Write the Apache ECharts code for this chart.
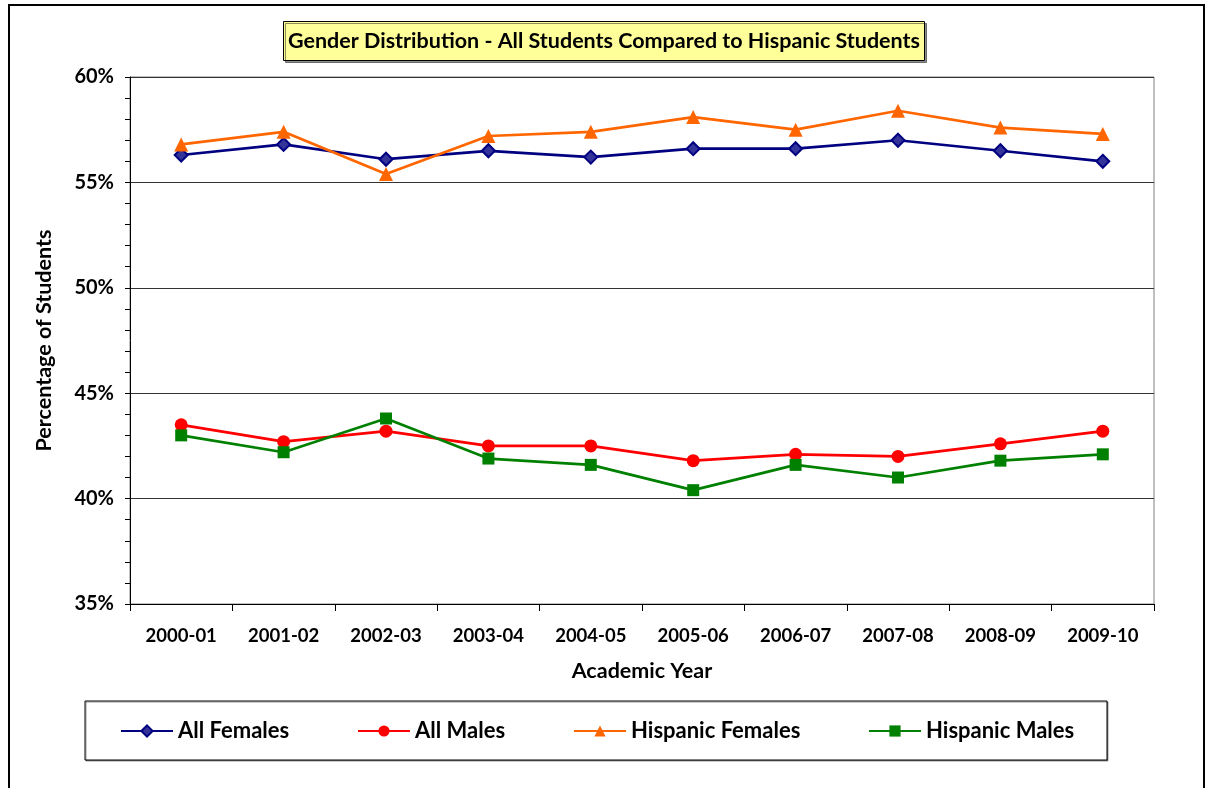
<!DOCTYPE html>
<html>
<head>
<meta charset="utf-8">
<script src="https://cdn.jsdelivr.net/npm/echarts@6/dist/echarts.min.js"></script>
<style>
  html, body { margin: 0; padding: 0; background: #fff; }
  #gender-chart { width: 1208px; height: 788px; }
</style>
</head>
<body>
<div id="gender-chart"></div>
<script>
const years = ['2000-01', '2001-02', '2002-03', '2003-04', '2004-05', '2005-06', '2006-07', '2007-08', '2008-09', '2009-10']
const allFemales = [56.3, 56.8, 56.1, 56.5, 56.2, 56.6, 56.6, 57.0, 56.5, 56.0]
const allMales = [43.5, 42.7, 43.2, 42.5, 42.5, 41.8, 42.1, 42.0, 42.6, 43.2]
const hispanicFemales = [56.8, 57.4, 55.4, 57.2, 57.4, 58.1, 57.5, 58.4, 57.6, 57.3]
const hispanicMales = [43.0, 42.2, 43.8, 41.9, 41.6, 40.4, 41.6, 41.0, 41.8, 42.1]

const font = 'Lato, "Open Sans", sans-serif'

// legend slots: name, left edge of icon
const legendSlots = [
  ['All Females', 120],
  ['All Males', 357],
  ['Hispanic Females', 573],
  ['Hispanic Males', 868]
]

function makeSeries(name, data, color, symbol, size) {
  return {
    name: name,
    type: 'line',
    data: data,
    symbol: symbol,
    symbolSize: size,
    lineStyle: { color: color, width: 2.7 },
    itemStyle: {
      color: symbol === 'diamond' ? '#333399' : color,
      borderColor: color,
      borderWidth: symbol === 'diamond' ? 2 : 0
    },
    emphasis: { disabled: true },
    z: 3
  }
}

const chart = echarts.init(document.getElementById('gender-chart'))
chart.setOption({
  animation: false,
  textStyle: { fontFamily: font },
  title: {
    text: 'Gender Distribution - All Students Compared to Hispanic Students',
    left: 'center',
    top: 21,
    padding: [9, 5, 9, 5],
    backgroundColor: '#FFFF99',
    borderColor: '#000',
    borderWidth: 1,
    shadowColor: 'rgba(0,0,0,0.45)',
    shadowOffsetX: 2,
    shadowOffsetY: 2,
    textStyle: { fontFamily: font, fontSize: 21.5, fontWeight: 'bold', color: '#000' }
  },
  grid: {
    left: 130, top: 77, width: 1024, height: 527,
    show: true, borderColor: '#808080', borderWidth: 1, backgroundColor: '#fff'
  },
  legend: legendSlots.map(function (s) {
    return {
      data: [s[0]],
      left: s[1] - 5,
      top: 715,
      itemWidth: 52,
      itemHeight: 14,
      itemGap: 6,
      selectedMode: false,
      textStyle: { fontFamily: font, fontSize: 22, fontWeight: 'bold', color: '#000' }
    }
  }),
  xAxis: {
    type: 'category',
    data: years,
    boundaryGap: true,
    name: 'Academic Year',
    nameLocation: 'middle',
    nameGap: 56,
    nameTextStyle: { fontFamily: font, fontSize: 21.5, fontWeight: 'bold', color: '#000' },
    axisLine: { lineStyle: { color: '#000', width: 1 } },
    axisTick: { show: true, length: 7, lineStyle: { color: '#000' } },
    axisLabel: { margin: 23, fontFamily: font, fontSize: 18.5, fontWeight: 'bold', color: '#000' }
  },
  yAxis: {
    type: 'value',
    min: 35,
    max: 60,
    interval: 5,
    name: 'Percentage of Students',
    nameLocation: 'middle',
    nameGap: 75,
    nameTextStyle: { fontFamily: font, fontSize: 21.5, fontWeight: 'bold', color: '#000' },
    axisLine: { show: true, lineStyle: { color: '#000', width: 1 } },
    axisTick: { show: true, length: 5, lineStyle: { color: '#000' } },
    minorTick: { show: true, splitNumber: 5, length: 5, lineStyle: { color: '#000' } },
    axisLabel: { margin: 16, formatter: '{value}%', fontFamily: font, fontSize: 20, fontWeight: 'bold', color: '#000' },
    splitLine: { show: true, lineStyle: { color: '#333', width: 1 } }
  },
  graphic: [
    {
      type: 'rect',
      shape: { x: 9, y: 5, width: 1195, height: 800 },
      style: { fill: 'none', stroke: '#000', lineWidth: 2 },
      silent: true
    },
    {
      type: 'rect',
      shape: { x: 85, y: 701, width: 1022, height: 59 },
      style: { fill: '#fff', stroke: '#000', lineWidth: 1, shadowColor: 'rgba(0,0,0,0.4)', shadowOffsetX: 1, shadowOffsetY: 1 },
      silent: true,
      z: -1
    }
  ],
  series: [
    makeSeries('All Females', allFemales, '#000080', 'diamond', 13),
    makeSeries('All Males', allMales, '#FF0000', 'circle', 13),
    makeSeries('Hispanic Females', hispanicFemales, '#FF6600', 'triangle', 14),
    makeSeries('Hispanic Males', hispanicMales, '#008000', 'rect', 12)
  ]
})
</script>
</body>
</html>
